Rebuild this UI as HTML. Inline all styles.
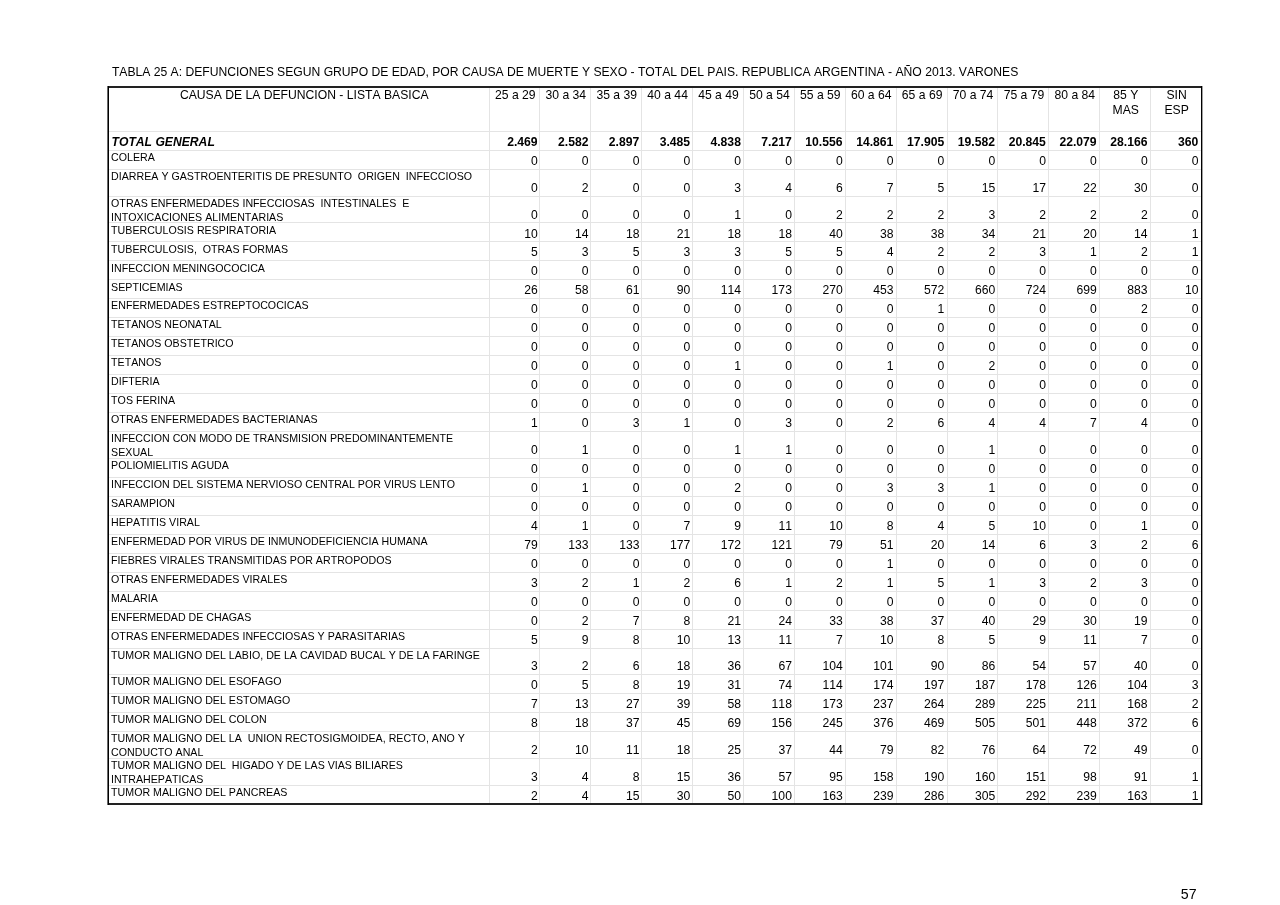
<!DOCTYPE html>
<html lang="es"><head><meta charset="utf-8"><title>TABLA 25 A</title>
<style>
html,body{margin:0;padding:0;background:#fff;}
body{width:1280px;height:905px;position:relative;overflow:hidden;font-family:"Liberation Sans",sans-serif;color:#000;font-kerning:none;}
.t{position:absolute;white-space:pre;margin:0;padding:0;}
.n{font-size:12.16px;line-height:15px;}
.l{font-size:10.64px;line-height:13px;letter-spacing:0.015px;}
.b{font-weight:bold;}
.bi{font-weight:bold;font-style:italic;}
.pg{font-size:14.2px;line-height:17px;}
.h{position:absolute;height:1px;background:#e4e4e4;}
.v{position:absolute;width:1px;background:#e4e4e4;}
.bd{position:absolute;background:#222;}
</style></head><body>

<div class="t n" style="top:65px;left:111.90px;letter-spacing:-0.012px;">TABLA 25 A: DEFUNCIONES SEGUN GRUPO DE EDAD, POR CAUSA DE MUERTE Y SEXO - TOTAL DEL PAIS. REPUBLICA ARGENTINA - AÑO 2013. VARONES</div>
<div class="h" style="left:108px;width:1093px;top:131px"></div>
<div class="h" style="left:108px;width:1093px;top:150px"></div>
<div class="h" style="left:108px;width:1093px;top:169px"></div>
<div class="h" style="left:108px;width:1093px;top:196px"></div>
<div class="h" style="left:108px;width:1093px;top:222px"></div>
<div class="h" style="left:108px;width:1093px;top:241px"></div>
<div class="h" style="left:108px;width:1093px;top:260px"></div>
<div class="h" style="left:108px;width:1093px;top:279px"></div>
<div class="h" style="left:108px;width:1093px;top:298px"></div>
<div class="h" style="left:108px;width:1093px;top:317px"></div>
<div class="h" style="left:108px;width:1093px;top:336px"></div>
<div class="h" style="left:108px;width:1093px;top:355px"></div>
<div class="h" style="left:108px;width:1093px;top:374px"></div>
<div class="h" style="left:108px;width:1093px;top:393px"></div>
<div class="h" style="left:108px;width:1093px;top:412px"></div>
<div class="h" style="left:108px;width:1093px;top:431px"></div>
<div class="h" style="left:108px;width:1093px;top:458px"></div>
<div class="h" style="left:108px;width:1093px;top:477px"></div>
<div class="h" style="left:108px;width:1093px;top:496px"></div>
<div class="h" style="left:108px;width:1093px;top:515px"></div>
<div class="h" style="left:108px;width:1093px;top:534px"></div>
<div class="h" style="left:108px;width:1093px;top:553px"></div>
<div class="h" style="left:108px;width:1093px;top:572px"></div>
<div class="h" style="left:108px;width:1093px;top:591px"></div>
<div class="h" style="left:108px;width:1093px;top:610px"></div>
<div class="h" style="left:108px;width:1093px;top:629px"></div>
<div class="h" style="left:108px;width:1093px;top:648px"></div>
<div class="h" style="left:108px;width:1093px;top:674px"></div>
<div class="h" style="left:108px;width:1093px;top:693px"></div>
<div class="h" style="left:108px;width:1093px;top:712px"></div>
<div class="h" style="left:108px;width:1093px;top:731px"></div>
<div class="h" style="left:108px;width:1093px;top:758px"></div>
<div class="h" style="left:108px;width:1093px;top:785px"></div>
<div class="v" style="top:86px;height:717px;left:489px"></div>
<div class="v" style="top:86px;height:717px;left:539px"></div>
<div class="v" style="top:86px;height:717px;left:590px"></div>
<div class="v" style="top:86px;height:717px;left:641px"></div>
<div class="v" style="top:86px;height:717px;left:692px"></div>
<div class="v" style="top:86px;height:717px;left:743px"></div>
<div class="v" style="top:86px;height:717px;left:794px"></div>
<div class="v" style="top:86px;height:717px;left:845px"></div>
<div class="v" style="top:86px;height:717px;left:896px"></div>
<div class="v" style="top:86px;height:717px;left:947px"></div>
<div class="v" style="top:86px;height:717px;left:997px"></div>
<div class="v" style="top:86px;height:717px;left:1048px"></div>
<div class="v" style="top:86px;height:717px;left:1099px"></div>
<div class="v" style="top:86px;height:717px;left:1150px"></div>
<div class="bd" style="left:107px;top:86px;width:1096px;height:2px"></div>
<div class="bd" style="left:107px;top:803px;width:1096px;height:2px"></div>
<div class="bd" style="left:108px;top:86px;width:1px;height:719px;background:#000"></div>
<div class="bd" style="left:107px;top:86px;width:1px;height:719px;background:#6a6a6a"></div>
<div class="bd" style="left:1201px;top:86px;width:1px;height:719px;background:#000"></div>
<div class="bd" style="left:1202px;top:86px;width:1px;height:719px;background:#a0a0a0"></div>
<div class="t n" style="top:88px;left:154.25px;width:300px;text-align:center;">CAUSA DE LA DEFUNCION - LISTA BASICA</div>
<div class="t n" style="top:88px;left:365.35px;width:300px;text-align:center;">25 a 29</div>
<div class="t n" style="top:88px;left:415.80px;width:300px;text-align:center;">30 a 34</div>
<div class="t n" style="top:88px;left:466.71px;width:300px;text-align:center;">35 a 39</div>
<div class="t n" style="top:88px;left:517.61px;width:300px;text-align:center;">40 a 44</div>
<div class="t n" style="top:88px;left:568.51px;width:300px;text-align:center;">45 a 49</div>
<div class="t n" style="top:88px;left:619.42px;width:300px;text-align:center;">50 a 54</div>
<div class="t n" style="top:88px;left:670.32px;width:300px;text-align:center;">55 a 59</div>
<div class="t n" style="top:88px;left:721.23px;width:300px;text-align:center;">60 a 64</div>
<div class="t n" style="top:88px;left:772.13px;width:300px;text-align:center;">65 a 69</div>
<div class="t n" style="top:88px;left:823.03px;width:300px;text-align:center;">70 a 74</div>
<div class="t n" style="top:88px;left:873.94px;width:300px;text-align:center;">75 a 79</div>
<div class="t n" style="top:88px;left:924.84px;width:300px;text-align:center;">80 a 84</div>
<div class="t n" style="top:88px;left:975.75px;width:300px;text-align:center;">85 Y</div>
<div class="t n" style="top:103px;left:975.75px;width:300px;text-align:center;">MAS</div>
<div class="t n" style="top:88px;left:1026.65px;width:300px;text-align:center;">SIN</div>
<div class="t n" style="top:103px;left:1026.65px;width:300px;text-align:center;">ESP</div>
<div class="t n bi" style="top:135px;left:111.50px;">TOTAL GENERAL</div>
<div class="t n b" style="top:135px;right:742.40px;">2.469</div>
<div class="t n b" style="top:135px;right:691.58px;">2.582</div>
<div class="t n b" style="top:135px;right:640.76px;">2.897</div>
<div class="t n b" style="top:135px;right:589.94px;">3.485</div>
<div class="t n b" style="top:135px;right:539.12px;">4.838</div>
<div class="t n b" style="top:135px;right:488.30px;">7.217</div>
<div class="t n b" style="top:135px;right:437.48px;">10.556</div>
<div class="t n b" style="top:135px;right:386.66px;">14.861</div>
<div class="t n b" style="top:135px;right:335.84px;">17.905</div>
<div class="t n b" style="top:135px;right:285.02px;">19.582</div>
<div class="t n b" style="top:135px;right:234.20px;">20.845</div>
<div class="t n b" style="top:135px;right:183.38px;">22.079</div>
<div class="t n b" style="top:135px;right:132.56px;">28.166</div>
<div class="t n b" style="top:135px;right:81.74px;">360</div>
<div class="t l" style="top:151px;left:111.10px;">COLERA</div>
<div class="t n" style="top:154px;right:742.20px;">0</div>
<div class="t n" style="top:154px;right:691.38px;">0</div>
<div class="t n" style="top:154px;right:640.56px;">0</div>
<div class="t n" style="top:154px;right:589.74px;">0</div>
<div class="t n" style="top:154px;right:538.92px;">0</div>
<div class="t n" style="top:154px;right:488.10px;">0</div>
<div class="t n" style="top:154px;right:437.28px;">0</div>
<div class="t n" style="top:154px;right:386.46px;">0</div>
<div class="t n" style="top:154px;right:335.64px;">0</div>
<div class="t n" style="top:154px;right:284.82px;">0</div>
<div class="t n" style="top:154px;right:234.00px;">0</div>
<div class="t n" style="top:154px;right:183.18px;">0</div>
<div class="t n" style="top:154px;right:132.36px;">0</div>
<div class="t n" style="top:154px;right:81.54px;">0</div>
<div class="t l" style="top:170px;left:111.10px;">DIARREA Y GASTROENTERITIS DE PRESUNTO  ORIGEN  INFECCIOSO</div>
<div class="t n" style="top:181px;right:742.20px;">0</div>
<div class="t n" style="top:181px;right:691.38px;">2</div>
<div class="t n" style="top:181px;right:640.56px;">0</div>
<div class="t n" style="top:181px;right:589.74px;">0</div>
<div class="t n" style="top:181px;right:538.92px;">3</div>
<div class="t n" style="top:181px;right:488.10px;">4</div>
<div class="t n" style="top:181px;right:437.28px;">6</div>
<div class="t n" style="top:181px;right:386.46px;">7</div>
<div class="t n" style="top:181px;right:335.64px;">5</div>
<div class="t n" style="top:181px;right:284.82px;">15</div>
<div class="t n" style="top:181px;right:234.00px;">17</div>
<div class="t n" style="top:181px;right:183.18px;">22</div>
<div class="t n" style="top:181px;right:132.36px;">30</div>
<div class="t n" style="top:181px;right:81.54px;">0</div>
<div class="t l" style="top:197px;left:111.10px;">OTRAS ENFERMEDADES INFECCIOSAS  INTESTINALES  E</div>
<div class="t l" style="top:211px;left:111.10px;">INTOXICACIONES ALIMENTARIAS</div>
<div class="t n" style="top:208px;right:742.20px;">0</div>
<div class="t n" style="top:208px;right:691.38px;">0</div>
<div class="t n" style="top:208px;right:640.56px;">0</div>
<div class="t n" style="top:208px;right:589.74px;">0</div>
<div class="t n" style="top:208px;right:538.92px;">1</div>
<div class="t n" style="top:208px;right:488.10px;">0</div>
<div class="t n" style="top:208px;right:437.28px;">2</div>
<div class="t n" style="top:208px;right:386.46px;">2</div>
<div class="t n" style="top:208px;right:335.64px;">2</div>
<div class="t n" style="top:208px;right:284.82px;">3</div>
<div class="t n" style="top:208px;right:234.00px;">2</div>
<div class="t n" style="top:208px;right:183.18px;">2</div>
<div class="t n" style="top:208px;right:132.36px;">2</div>
<div class="t n" style="top:208px;right:81.54px;">0</div>
<div class="t l" style="top:224px;left:111.10px;">TUBERCULOSIS RESPIRATORIA</div>
<div class="t n" style="top:227px;right:742.20px;">10</div>
<div class="t n" style="top:227px;right:691.38px;">14</div>
<div class="t n" style="top:227px;right:640.56px;">18</div>
<div class="t n" style="top:227px;right:589.74px;">21</div>
<div class="t n" style="top:227px;right:538.92px;">18</div>
<div class="t n" style="top:227px;right:488.10px;">18</div>
<div class="t n" style="top:227px;right:437.28px;">40</div>
<div class="t n" style="top:227px;right:386.46px;">38</div>
<div class="t n" style="top:227px;right:335.64px;">38</div>
<div class="t n" style="top:227px;right:284.82px;">34</div>
<div class="t n" style="top:227px;right:234.00px;">21</div>
<div class="t n" style="top:227px;right:183.18px;">20</div>
<div class="t n" style="top:227px;right:132.36px;">14</div>
<div class="t n" style="top:227px;right:81.54px;">1</div>
<div class="t l" style="top:243px;left:111.10px;">TUBERCULOSIS,  OTRAS FORMAS</div>
<div class="t n" style="top:245px;right:742.20px;">5</div>
<div class="t n" style="top:245px;right:691.38px;">3</div>
<div class="t n" style="top:245px;right:640.56px;">5</div>
<div class="t n" style="top:245px;right:589.74px;">3</div>
<div class="t n" style="top:245px;right:538.92px;">3</div>
<div class="t n" style="top:245px;right:488.10px;">5</div>
<div class="t n" style="top:245px;right:437.28px;">5</div>
<div class="t n" style="top:245px;right:386.46px;">4</div>
<div class="t n" style="top:245px;right:335.64px;">2</div>
<div class="t n" style="top:245px;right:284.82px;">2</div>
<div class="t n" style="top:245px;right:234.00px;">3</div>
<div class="t n" style="top:245px;right:183.18px;">1</div>
<div class="t n" style="top:245px;right:132.36px;">2</div>
<div class="t n" style="top:245px;right:81.54px;">1</div>
<div class="t l" style="top:262px;left:111.10px;">INFECCION MENINGOCOCICA</div>
<div class="t n" style="top:264px;right:742.20px;">0</div>
<div class="t n" style="top:264px;right:691.38px;">0</div>
<div class="t n" style="top:264px;right:640.56px;">0</div>
<div class="t n" style="top:264px;right:589.74px;">0</div>
<div class="t n" style="top:264px;right:538.92px;">0</div>
<div class="t n" style="top:264px;right:488.10px;">0</div>
<div class="t n" style="top:264px;right:437.28px;">0</div>
<div class="t n" style="top:264px;right:386.46px;">0</div>
<div class="t n" style="top:264px;right:335.64px;">0</div>
<div class="t n" style="top:264px;right:284.82px;">0</div>
<div class="t n" style="top:264px;right:234.00px;">0</div>
<div class="t n" style="top:264px;right:183.18px;">0</div>
<div class="t n" style="top:264px;right:132.36px;">0</div>
<div class="t n" style="top:264px;right:81.54px;">0</div>
<div class="t l" style="top:281px;left:111.10px;">SEPTICEMIAS</div>
<div class="t n" style="top:283px;right:742.20px;">26</div>
<div class="t n" style="top:283px;right:691.38px;">58</div>
<div class="t n" style="top:283px;right:640.56px;">61</div>
<div class="t n" style="top:283px;right:589.74px;">90</div>
<div class="t n" style="top:283px;right:538.92px;">114</div>
<div class="t n" style="top:283px;right:488.10px;">173</div>
<div class="t n" style="top:283px;right:437.28px;">270</div>
<div class="t n" style="top:283px;right:386.46px;">453</div>
<div class="t n" style="top:283px;right:335.64px;">572</div>
<div class="t n" style="top:283px;right:284.82px;">660</div>
<div class="t n" style="top:283px;right:234.00px;">724</div>
<div class="t n" style="top:283px;right:183.18px;">699</div>
<div class="t n" style="top:283px;right:132.36px;">883</div>
<div class="t n" style="top:283px;right:81.54px;">10</div>
<div class="t l" style="top:299px;left:111.10px;">ENFERMEDADES ESTREPTOCOCICAS</div>
<div class="t n" style="top:302px;right:742.20px;">0</div>
<div class="t n" style="top:302px;right:691.38px;">0</div>
<div class="t n" style="top:302px;right:640.56px;">0</div>
<div class="t n" style="top:302px;right:589.74px;">0</div>
<div class="t n" style="top:302px;right:538.92px;">0</div>
<div class="t n" style="top:302px;right:488.10px;">0</div>
<div class="t n" style="top:302px;right:437.28px;">0</div>
<div class="t n" style="top:302px;right:386.46px;">0</div>
<div class="t n" style="top:302px;right:335.64px;">1</div>
<div class="t n" style="top:302px;right:284.82px;">0</div>
<div class="t n" style="top:302px;right:234.00px;">0</div>
<div class="t n" style="top:302px;right:183.18px;">0</div>
<div class="t n" style="top:302px;right:132.36px;">2</div>
<div class="t n" style="top:302px;right:81.54px;">0</div>
<div class="t l" style="top:318px;left:111.10px;">TETANOS NEONATAL</div>
<div class="t n" style="top:321px;right:742.20px;">0</div>
<div class="t n" style="top:321px;right:691.38px;">0</div>
<div class="t n" style="top:321px;right:640.56px;">0</div>
<div class="t n" style="top:321px;right:589.74px;">0</div>
<div class="t n" style="top:321px;right:538.92px;">0</div>
<div class="t n" style="top:321px;right:488.10px;">0</div>
<div class="t n" style="top:321px;right:437.28px;">0</div>
<div class="t n" style="top:321px;right:386.46px;">0</div>
<div class="t n" style="top:321px;right:335.64px;">0</div>
<div class="t n" style="top:321px;right:284.82px;">0</div>
<div class="t n" style="top:321px;right:234.00px;">0</div>
<div class="t n" style="top:321px;right:183.18px;">0</div>
<div class="t n" style="top:321px;right:132.36px;">0</div>
<div class="t n" style="top:321px;right:81.54px;">0</div>
<div class="t l" style="top:337px;left:111.10px;">TETANOS OBSTETRICO</div>
<div class="t n" style="top:340px;right:742.20px;">0</div>
<div class="t n" style="top:340px;right:691.38px;">0</div>
<div class="t n" style="top:340px;right:640.56px;">0</div>
<div class="t n" style="top:340px;right:589.74px;">0</div>
<div class="t n" style="top:340px;right:538.92px;">0</div>
<div class="t n" style="top:340px;right:488.10px;">0</div>
<div class="t n" style="top:340px;right:437.28px;">0</div>
<div class="t n" style="top:340px;right:386.46px;">0</div>
<div class="t n" style="top:340px;right:335.64px;">0</div>
<div class="t n" style="top:340px;right:284.82px;">0</div>
<div class="t n" style="top:340px;right:234.00px;">0</div>
<div class="t n" style="top:340px;right:183.18px;">0</div>
<div class="t n" style="top:340px;right:132.36px;">0</div>
<div class="t n" style="top:340px;right:81.54px;">0</div>
<div class="t l" style="top:356px;left:111.10px;">TETANOS</div>
<div class="t n" style="top:359px;right:742.20px;">0</div>
<div class="t n" style="top:359px;right:691.38px;">0</div>
<div class="t n" style="top:359px;right:640.56px;">0</div>
<div class="t n" style="top:359px;right:589.74px;">0</div>
<div class="t n" style="top:359px;right:538.92px;">1</div>
<div class="t n" style="top:359px;right:488.10px;">0</div>
<div class="t n" style="top:359px;right:437.28px;">0</div>
<div class="t n" style="top:359px;right:386.46px;">1</div>
<div class="t n" style="top:359px;right:335.64px;">0</div>
<div class="t n" style="top:359px;right:284.82px;">2</div>
<div class="t n" style="top:359px;right:234.00px;">0</div>
<div class="t n" style="top:359px;right:183.18px;">0</div>
<div class="t n" style="top:359px;right:132.36px;">0</div>
<div class="t n" style="top:359px;right:81.54px;">0</div>
<div class="t l" style="top:375px;left:111.10px;">DIFTERIA</div>
<div class="t n" style="top:378px;right:742.20px;">0</div>
<div class="t n" style="top:378px;right:691.38px;">0</div>
<div class="t n" style="top:378px;right:640.56px;">0</div>
<div class="t n" style="top:378px;right:589.74px;">0</div>
<div class="t n" style="top:378px;right:538.92px;">0</div>
<div class="t n" style="top:378px;right:488.10px;">0</div>
<div class="t n" style="top:378px;right:437.28px;">0</div>
<div class="t n" style="top:378px;right:386.46px;">0</div>
<div class="t n" style="top:378px;right:335.64px;">0</div>
<div class="t n" style="top:378px;right:284.82px;">0</div>
<div class="t n" style="top:378px;right:234.00px;">0</div>
<div class="t n" style="top:378px;right:183.18px;">0</div>
<div class="t n" style="top:378px;right:132.36px;">0</div>
<div class="t n" style="top:378px;right:81.54px;">0</div>
<div class="t l" style="top:394px;left:111.10px;">TOS FERINA</div>
<div class="t n" style="top:397px;right:742.20px;">0</div>
<div class="t n" style="top:397px;right:691.38px;">0</div>
<div class="t n" style="top:397px;right:640.56px;">0</div>
<div class="t n" style="top:397px;right:589.74px;">0</div>
<div class="t n" style="top:397px;right:538.92px;">0</div>
<div class="t n" style="top:397px;right:488.10px;">0</div>
<div class="t n" style="top:397px;right:437.28px;">0</div>
<div class="t n" style="top:397px;right:386.46px;">0</div>
<div class="t n" style="top:397px;right:335.64px;">0</div>
<div class="t n" style="top:397px;right:284.82px;">0</div>
<div class="t n" style="top:397px;right:234.00px;">0</div>
<div class="t n" style="top:397px;right:183.18px;">0</div>
<div class="t n" style="top:397px;right:132.36px;">0</div>
<div class="t n" style="top:397px;right:81.54px;">0</div>
<div class="t l" style="top:413px;left:111.10px;">OTRAS ENFERMEDADES BACTERIANAS</div>
<div class="t n" style="top:416px;right:742.20px;">1</div>
<div class="t n" style="top:416px;right:691.38px;">0</div>
<div class="t n" style="top:416px;right:640.56px;">3</div>
<div class="t n" style="top:416px;right:589.74px;">1</div>
<div class="t n" style="top:416px;right:538.92px;">0</div>
<div class="t n" style="top:416px;right:488.10px;">3</div>
<div class="t n" style="top:416px;right:437.28px;">0</div>
<div class="t n" style="top:416px;right:386.46px;">2</div>
<div class="t n" style="top:416px;right:335.64px;">6</div>
<div class="t n" style="top:416px;right:284.82px;">4</div>
<div class="t n" style="top:416px;right:234.00px;">4</div>
<div class="t n" style="top:416px;right:183.18px;">7</div>
<div class="t n" style="top:416px;right:132.36px;">4</div>
<div class="t n" style="top:416px;right:81.54px;">0</div>
<div class="t l" style="top:432px;left:111.10px;">INFECCION CON MODO DE TRANSMISION PREDOMINANTEMENTE</div>
<div class="t l" style="top:446px;left:111.10px;">SEXUAL</div>
<div class="t n" style="top:443px;right:742.20px;">0</div>
<div class="t n" style="top:443px;right:691.38px;">1</div>
<div class="t n" style="top:443px;right:640.56px;">0</div>
<div class="t n" style="top:443px;right:589.74px;">0</div>
<div class="t n" style="top:443px;right:538.92px;">1</div>
<div class="t n" style="top:443px;right:488.10px;">1</div>
<div class="t n" style="top:443px;right:437.28px;">0</div>
<div class="t n" style="top:443px;right:386.46px;">0</div>
<div class="t n" style="top:443px;right:335.64px;">0</div>
<div class="t n" style="top:443px;right:284.82px;">1</div>
<div class="t n" style="top:443px;right:234.00px;">0</div>
<div class="t n" style="top:443px;right:183.18px;">0</div>
<div class="t n" style="top:443px;right:132.36px;">0</div>
<div class="t n" style="top:443px;right:81.54px;">0</div>
<div class="t l" style="top:459px;left:111.10px;">POLIOMIELITIS AGUDA</div>
<div class="t n" style="top:462px;right:742.20px;">0</div>
<div class="t n" style="top:462px;right:691.38px;">0</div>
<div class="t n" style="top:462px;right:640.56px;">0</div>
<div class="t n" style="top:462px;right:589.74px;">0</div>
<div class="t n" style="top:462px;right:538.92px;">0</div>
<div class="t n" style="top:462px;right:488.10px;">0</div>
<div class="t n" style="top:462px;right:437.28px;">0</div>
<div class="t n" style="top:462px;right:386.46px;">0</div>
<div class="t n" style="top:462px;right:335.64px;">0</div>
<div class="t n" style="top:462px;right:284.82px;">0</div>
<div class="t n" style="top:462px;right:234.00px;">0</div>
<div class="t n" style="top:462px;right:183.18px;">0</div>
<div class="t n" style="top:462px;right:132.36px;">0</div>
<div class="t n" style="top:462px;right:81.54px;">0</div>
<div class="t l" style="top:478px;left:111.10px;">INFECCION DEL SISTEMA NERVIOSO CENTRAL POR VIRUS LENTO</div>
<div class="t n" style="top:481px;right:742.20px;">0</div>
<div class="t n" style="top:481px;right:691.38px;">1</div>
<div class="t n" style="top:481px;right:640.56px;">0</div>
<div class="t n" style="top:481px;right:589.74px;">0</div>
<div class="t n" style="top:481px;right:538.92px;">2</div>
<div class="t n" style="top:481px;right:488.10px;">0</div>
<div class="t n" style="top:481px;right:437.28px;">0</div>
<div class="t n" style="top:481px;right:386.46px;">3</div>
<div class="t n" style="top:481px;right:335.64px;">3</div>
<div class="t n" style="top:481px;right:284.82px;">1</div>
<div class="t n" style="top:481px;right:234.00px;">0</div>
<div class="t n" style="top:481px;right:183.18px;">0</div>
<div class="t n" style="top:481px;right:132.36px;">0</div>
<div class="t n" style="top:481px;right:81.54px;">0</div>
<div class="t l" style="top:497px;left:111.10px;">SARAMPION</div>
<div class="t n" style="top:500px;right:742.20px;">0</div>
<div class="t n" style="top:500px;right:691.38px;">0</div>
<div class="t n" style="top:500px;right:640.56px;">0</div>
<div class="t n" style="top:500px;right:589.74px;">0</div>
<div class="t n" style="top:500px;right:538.92px;">0</div>
<div class="t n" style="top:500px;right:488.10px;">0</div>
<div class="t n" style="top:500px;right:437.28px;">0</div>
<div class="t n" style="top:500px;right:386.46px;">0</div>
<div class="t n" style="top:500px;right:335.64px;">0</div>
<div class="t n" style="top:500px;right:284.82px;">0</div>
<div class="t n" style="top:500px;right:234.00px;">0</div>
<div class="t n" style="top:500px;right:183.18px;">0</div>
<div class="t n" style="top:500px;right:132.36px;">0</div>
<div class="t n" style="top:500px;right:81.54px;">0</div>
<div class="t l" style="top:516px;left:111.10px;">HEPATITIS VIRAL</div>
<div class="t n" style="top:519px;right:742.20px;">4</div>
<div class="t n" style="top:519px;right:691.38px;">1</div>
<div class="t n" style="top:519px;right:640.56px;">0</div>
<div class="t n" style="top:519px;right:589.74px;">7</div>
<div class="t n" style="top:519px;right:538.92px;">9</div>
<div class="t n" style="top:519px;right:488.10px;">11</div>
<div class="t n" style="top:519px;right:437.28px;">10</div>
<div class="t n" style="top:519px;right:386.46px;">8</div>
<div class="t n" style="top:519px;right:335.64px;">4</div>
<div class="t n" style="top:519px;right:284.82px;">5</div>
<div class="t n" style="top:519px;right:234.00px;">10</div>
<div class="t n" style="top:519px;right:183.18px;">0</div>
<div class="t n" style="top:519px;right:132.36px;">1</div>
<div class="t n" style="top:519px;right:81.54px;">0</div>
<div class="t l" style="top:535px;left:111.10px;">ENFERMEDAD POR VIRUS DE INMUNODEFICIENCIA HUMANA</div>
<div class="t n" style="top:538px;right:742.20px;">79</div>
<div class="t n" style="top:538px;right:691.38px;">133</div>
<div class="t n" style="top:538px;right:640.56px;">133</div>
<div class="t n" style="top:538px;right:589.74px;">177</div>
<div class="t n" style="top:538px;right:538.92px;">172</div>
<div class="t n" style="top:538px;right:488.10px;">121</div>
<div class="t n" style="top:538px;right:437.28px;">79</div>
<div class="t n" style="top:538px;right:386.46px;">51</div>
<div class="t n" style="top:538px;right:335.64px;">20</div>
<div class="t n" style="top:538px;right:284.82px;">14</div>
<div class="t n" style="top:538px;right:234.00px;">6</div>
<div class="t n" style="top:538px;right:183.18px;">3</div>
<div class="t n" style="top:538px;right:132.36px;">2</div>
<div class="t n" style="top:538px;right:81.54px;">6</div>
<div class="t l" style="top:554px;left:111.10px;">FIEBRES VIRALES TRANSMITIDAS POR ARTROPODOS</div>
<div class="t n" style="top:557px;right:742.20px;">0</div>
<div class="t n" style="top:557px;right:691.38px;">0</div>
<div class="t n" style="top:557px;right:640.56px;">0</div>
<div class="t n" style="top:557px;right:589.74px;">0</div>
<div class="t n" style="top:557px;right:538.92px;">0</div>
<div class="t n" style="top:557px;right:488.10px;">0</div>
<div class="t n" style="top:557px;right:437.28px;">0</div>
<div class="t n" style="top:557px;right:386.46px;">1</div>
<div class="t n" style="top:557px;right:335.64px;">0</div>
<div class="t n" style="top:557px;right:284.82px;">0</div>
<div class="t n" style="top:557px;right:234.00px;">0</div>
<div class="t n" style="top:557px;right:183.18px;">0</div>
<div class="t n" style="top:557px;right:132.36px;">0</div>
<div class="t n" style="top:557px;right:81.54px;">0</div>
<div class="t l" style="top:573px;left:111.10px;">OTRAS ENFERMEDADES VIRALES</div>
<div class="t n" style="top:576px;right:742.20px;">3</div>
<div class="t n" style="top:576px;right:691.38px;">2</div>
<div class="t n" style="top:576px;right:640.56px;">1</div>
<div class="t n" style="top:576px;right:589.74px;">2</div>
<div class="t n" style="top:576px;right:538.92px;">6</div>
<div class="t n" style="top:576px;right:488.10px;">1</div>
<div class="t n" style="top:576px;right:437.28px;">2</div>
<div class="t n" style="top:576px;right:386.46px;">1</div>
<div class="t n" style="top:576px;right:335.64px;">5</div>
<div class="t n" style="top:576px;right:284.82px;">1</div>
<div class="t n" style="top:576px;right:234.00px;">3</div>
<div class="t n" style="top:576px;right:183.18px;">2</div>
<div class="t n" style="top:576px;right:132.36px;">3</div>
<div class="t n" style="top:576px;right:81.54px;">0</div>
<div class="t l" style="top:592px;left:111.10px;">MALARIA</div>
<div class="t n" style="top:595px;right:742.20px;">0</div>
<div class="t n" style="top:595px;right:691.38px;">0</div>
<div class="t n" style="top:595px;right:640.56px;">0</div>
<div class="t n" style="top:595px;right:589.74px;">0</div>
<div class="t n" style="top:595px;right:538.92px;">0</div>
<div class="t n" style="top:595px;right:488.10px;">0</div>
<div class="t n" style="top:595px;right:437.28px;">0</div>
<div class="t n" style="top:595px;right:386.46px;">0</div>
<div class="t n" style="top:595px;right:335.64px;">0</div>
<div class="t n" style="top:595px;right:284.82px;">0</div>
<div class="t n" style="top:595px;right:234.00px;">0</div>
<div class="t n" style="top:595px;right:183.18px;">0</div>
<div class="t n" style="top:595px;right:132.36px;">0</div>
<div class="t n" style="top:595px;right:81.54px;">0</div>
<div class="t l" style="top:611px;left:111.10px;">ENFERMEDAD DE CHAGAS</div>
<div class="t n" style="top:614px;right:742.20px;">0</div>
<div class="t n" style="top:614px;right:691.38px;">2</div>
<div class="t n" style="top:614px;right:640.56px;">7</div>
<div class="t n" style="top:614px;right:589.74px;">8</div>
<div class="t n" style="top:614px;right:538.92px;">21</div>
<div class="t n" style="top:614px;right:488.10px;">24</div>
<div class="t n" style="top:614px;right:437.28px;">33</div>
<div class="t n" style="top:614px;right:386.46px;">38</div>
<div class="t n" style="top:614px;right:335.64px;">37</div>
<div class="t n" style="top:614px;right:284.82px;">40</div>
<div class="t n" style="top:614px;right:234.00px;">29</div>
<div class="t n" style="top:614px;right:183.18px;">30</div>
<div class="t n" style="top:614px;right:132.36px;">19</div>
<div class="t n" style="top:614px;right:81.54px;">0</div>
<div class="t l" style="top:630px;left:111.10px;">OTRAS ENFERMEDADES INFECCIOSAS Y PARASITARIAS</div>
<div class="t n" style="top:633px;right:742.20px;">5</div>
<div class="t n" style="top:633px;right:691.38px;">9</div>
<div class="t n" style="top:633px;right:640.56px;">8</div>
<div class="t n" style="top:633px;right:589.74px;">10</div>
<div class="t n" style="top:633px;right:538.92px;">13</div>
<div class="t n" style="top:633px;right:488.10px;">11</div>
<div class="t n" style="top:633px;right:437.28px;">7</div>
<div class="t n" style="top:633px;right:386.46px;">10</div>
<div class="t n" style="top:633px;right:335.64px;">8</div>
<div class="t n" style="top:633px;right:284.82px;">5</div>
<div class="t n" style="top:633px;right:234.00px;">9</div>
<div class="t n" style="top:633px;right:183.18px;">11</div>
<div class="t n" style="top:633px;right:132.36px;">7</div>
<div class="t n" style="top:633px;right:81.54px;">0</div>
<div class="t l" style="top:649px;left:111.10px;">TUMOR MALIGNO DEL LABIO, DE LA CAVIDAD BUCAL Y DE LA FARINGE</div>
<div class="t n" style="top:659px;right:742.20px;">3</div>
<div class="t n" style="top:659px;right:691.38px;">2</div>
<div class="t n" style="top:659px;right:640.56px;">6</div>
<div class="t n" style="top:659px;right:589.74px;">18</div>
<div class="t n" style="top:659px;right:538.92px;">36</div>
<div class="t n" style="top:659px;right:488.10px;">67</div>
<div class="t n" style="top:659px;right:437.28px;">104</div>
<div class="t n" style="top:659px;right:386.46px;">101</div>
<div class="t n" style="top:659px;right:335.64px;">90</div>
<div class="t n" style="top:659px;right:284.82px;">86</div>
<div class="t n" style="top:659px;right:234.00px;">54</div>
<div class="t n" style="top:659px;right:183.18px;">57</div>
<div class="t n" style="top:659px;right:132.36px;">40</div>
<div class="t n" style="top:659px;right:81.54px;">0</div>
<div class="t l" style="top:675px;left:111.10px;">TUMOR MALIGNO DEL ESOFAGO</div>
<div class="t n" style="top:678px;right:742.20px;">0</div>
<div class="t n" style="top:678px;right:691.38px;">5</div>
<div class="t n" style="top:678px;right:640.56px;">8</div>
<div class="t n" style="top:678px;right:589.74px;">19</div>
<div class="t n" style="top:678px;right:538.92px;">31</div>
<div class="t n" style="top:678px;right:488.10px;">74</div>
<div class="t n" style="top:678px;right:437.28px;">114</div>
<div class="t n" style="top:678px;right:386.46px;">174</div>
<div class="t n" style="top:678px;right:335.64px;">197</div>
<div class="t n" style="top:678px;right:284.82px;">187</div>
<div class="t n" style="top:678px;right:234.00px;">178</div>
<div class="t n" style="top:678px;right:183.18px;">126</div>
<div class="t n" style="top:678px;right:132.36px;">104</div>
<div class="t n" style="top:678px;right:81.54px;">3</div>
<div class="t l" style="top:694px;left:111.10px;">TUMOR MALIGNO DEL ESTOMAGO</div>
<div class="t n" style="top:697px;right:742.20px;">7</div>
<div class="t n" style="top:697px;right:691.38px;">13</div>
<div class="t n" style="top:697px;right:640.56px;">27</div>
<div class="t n" style="top:697px;right:589.74px;">39</div>
<div class="t n" style="top:697px;right:538.92px;">58</div>
<div class="t n" style="top:697px;right:488.10px;">118</div>
<div class="t n" style="top:697px;right:437.28px;">173</div>
<div class="t n" style="top:697px;right:386.46px;">237</div>
<div class="t n" style="top:697px;right:335.64px;">264</div>
<div class="t n" style="top:697px;right:284.82px;">289</div>
<div class="t n" style="top:697px;right:234.00px;">225</div>
<div class="t n" style="top:697px;right:183.18px;">211</div>
<div class="t n" style="top:697px;right:132.36px;">168</div>
<div class="t n" style="top:697px;right:81.54px;">2</div>
<div class="t l" style="top:713px;left:111.10px;">TUMOR MALIGNO DEL COLON</div>
<div class="t n" style="top:716px;right:742.20px;">8</div>
<div class="t n" style="top:716px;right:691.38px;">18</div>
<div class="t n" style="top:716px;right:640.56px;">37</div>
<div class="t n" style="top:716px;right:589.74px;">45</div>
<div class="t n" style="top:716px;right:538.92px;">69</div>
<div class="t n" style="top:716px;right:488.10px;">156</div>
<div class="t n" style="top:716px;right:437.28px;">245</div>
<div class="t n" style="top:716px;right:386.46px;">376</div>
<div class="t n" style="top:716px;right:335.64px;">469</div>
<div class="t n" style="top:716px;right:284.82px;">505</div>
<div class="t n" style="top:716px;right:234.00px;">501</div>
<div class="t n" style="top:716px;right:183.18px;">448</div>
<div class="t n" style="top:716px;right:132.36px;">372</div>
<div class="t n" style="top:716px;right:81.54px;">6</div>
<div class="t l" style="top:732px;left:111.10px;">TUMOR MALIGNO DEL LA  UNION RECTOSIGMOIDEA, RECTO, ANO Y</div>
<div class="t l" style="top:746px;left:111.10px;">CONDUCTO ANAL</div>
<div class="t n" style="top:743px;right:742.20px;">2</div>
<div class="t n" style="top:743px;right:691.38px;">10</div>
<div class="t n" style="top:743px;right:640.56px;">11</div>
<div class="t n" style="top:743px;right:589.74px;">18</div>
<div class="t n" style="top:743px;right:538.92px;">25</div>
<div class="t n" style="top:743px;right:488.10px;">37</div>
<div class="t n" style="top:743px;right:437.28px;">44</div>
<div class="t n" style="top:743px;right:386.46px;">79</div>
<div class="t n" style="top:743px;right:335.64px;">82</div>
<div class="t n" style="top:743px;right:284.82px;">76</div>
<div class="t n" style="top:743px;right:234.00px;">64</div>
<div class="t n" style="top:743px;right:183.18px;">72</div>
<div class="t n" style="top:743px;right:132.36px;">49</div>
<div class="t n" style="top:743px;right:81.54px;">0</div>
<div class="t l" style="top:759px;left:111.10px;">TUMOR MALIGNO DEL  HIGADO Y DE LAS VIAS BILIARES</div>
<div class="t l" style="top:773px;left:111.10px;">INTRAHEPATICAS</div>
<div class="t n" style="top:770px;right:742.20px;">3</div>
<div class="t n" style="top:770px;right:691.38px;">4</div>
<div class="t n" style="top:770px;right:640.56px;">8</div>
<div class="t n" style="top:770px;right:589.74px;">15</div>
<div class="t n" style="top:770px;right:538.92px;">36</div>
<div class="t n" style="top:770px;right:488.10px;">57</div>
<div class="t n" style="top:770px;right:437.28px;">95</div>
<div class="t n" style="top:770px;right:386.46px;">158</div>
<div class="t n" style="top:770px;right:335.64px;">190</div>
<div class="t n" style="top:770px;right:284.82px;">160</div>
<div class="t n" style="top:770px;right:234.00px;">151</div>
<div class="t n" style="top:770px;right:183.18px;">98</div>
<div class="t n" style="top:770px;right:132.36px;">91</div>
<div class="t n" style="top:770px;right:81.54px;">1</div>
<div class="t l" style="top:786px;left:111.10px;">TUMOR MALIGNO DEL PANCREAS</div>
<div class="t n" style="top:789px;right:742.20px;">2</div>
<div class="t n" style="top:789px;right:691.38px;">4</div>
<div class="t n" style="top:789px;right:640.56px;">15</div>
<div class="t n" style="top:789px;right:589.74px;">30</div>
<div class="t n" style="top:789px;right:538.92px;">50</div>
<div class="t n" style="top:789px;right:488.10px;">100</div>
<div class="t n" style="top:789px;right:437.28px;">163</div>
<div class="t n" style="top:789px;right:386.46px;">239</div>
<div class="t n" style="top:789px;right:335.64px;">286</div>
<div class="t n" style="top:789px;right:284.82px;">305</div>
<div class="t n" style="top:789px;right:234.00px;">292</div>
<div class="t n" style="top:789px;right:183.18px;">239</div>
<div class="t n" style="top:789px;right:132.36px;">163</div>
<div class="t n" style="top:789px;right:81.54px;">1</div>
<div class="t pg" style="top:886px;right:83.40px;">57</div>
</body></html>
